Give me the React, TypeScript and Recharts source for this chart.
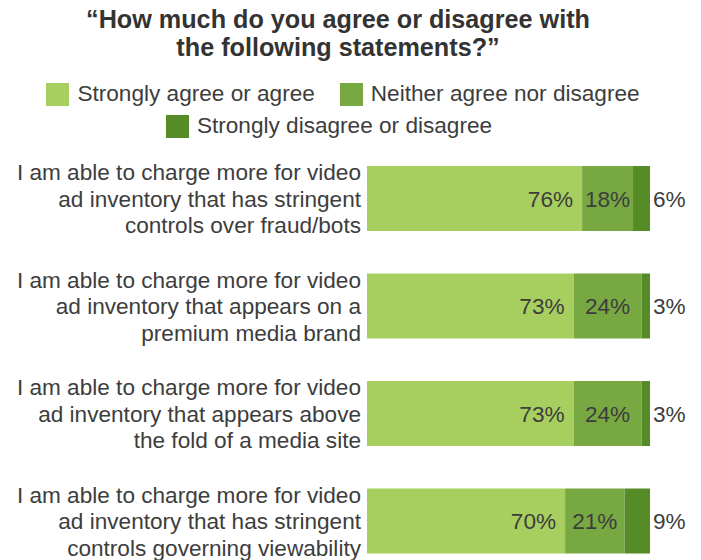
import { BarChart, Bar, XAxis, YAxis, LabelList } from "recharts";

const statements = [
  "I am able to charge more for video|ad inventory that has stringent|controls over fraud/bots",
  "I am able to charge more for video|ad inventory that appears on a|premium media brand",
  "I am able to charge more for video|ad inventory that appears above|the fold of a media site",
  "I am able to charge more for video|ad inventory that has stringent|controls governing viewability",
];
const agree = [76, 73, 73, 70];
const neither = [18, 24, 24, 21];
const disagree = [6, 3, 3, 9];

const seriesNames = [
  "Strongly agree or agree",
  "Neither agree nor disagree",
  "Strongly disagree or disagree",
];
const colors = ["#A6CF5F", "#78A842", "#568C27"];

const data = statements.map((s, i) => ({
  name: s,
  agree: agree[i],
  neither: neither[i],
  disagree: disagree[i],
}));

const FONT = "'Liberation Sans', Arial, Helvetica, sans-serif";
const TEXT = "#3d3d3d";
const FS = 22.6;

const CategoryTick = ({ x, y, payload }: any) => {
  const lines = String(payload.value).split("|");
  return (
    <text x={x} y={y} textAnchor="end" fill={TEXT} fontSize={FS} fontFamily={FONT}>
      {lines.map((line, i) => (
        <tspan key={i} x={x} y={y + (i - (lines.length - 1) / 2) * 26.5} dy="0.35em">
          {line}
        </tspan>
      ))}
    </text>
  );
};

// legend rows: first two items, then the third
const legendRows = [
  [0, 1],
  [2],
];

const pct = (v: any) => `${v}%`;

export default function App() {
  return (
    <div
      style={{
        position: "absolute",
        left: 0,
        top: 0,
        width: 701,
        height: 560,
        overflow: "hidden",
        background: "#fff",
      }}
    >
      <div
        style={{
          position: "absolute",
          left: 0,
          top: 5,
          width: 676,
          textAlign: "center",
          fontFamily: FONT,
          fontWeight: "bold",
          fontSize: 25.2,
          lineHeight: "28px",
          color: "#333333",
        }}
      >
        “How much do you agree or disagree with
        <br />
        the following statements?”
      </div>
      <div
        style={{
          position: "absolute",
          left: 0,
          top: 78,
          width: 686,
          fontFamily: FONT,
          fontSize: FS,
          color: TEXT,
        }}
      >
        {legendRows.map((row, r) => (
          <div
            key={r}
            style={{
              display: "flex",
              justifyContent: "center",
              gap: 25,
              height: 32,
              alignItems: "center",
              paddingRight: r === 1 ? 28 : 0,
            }}
          >
            {row.map((k) => (
              <div key={k} style={{ display: "flex", alignItems: "center", gap: 8 }}>
                <div style={{ width: 23, height: 23, background: colors[k] }} />
                <span>{seriesNames[k]}</span>
              </div>
            ))}
          </div>
        ))}
      </div>
      <BarChart
        width={701}
        height={575}
        data={data}
        layout="vertical"
        margin={{ top: 145, right: 51, bottom: 0, left: 0 }}
        barSize={65}
      >
        <XAxis type="number" domain={[0, 100]} hide />
        <YAxis
          type="category"
          dataKey="name"
          width={367}
          axisLine={false}
          tickLine={false}
          tickSize={0}
          tickMargin={6}
          tick={<CategoryTick />}
          interval={0}
        />
        <Bar dataKey="agree" name={seriesNames[0]} stackId="a" fill={colors[0]} isAnimationActive={false}>
          <LabelList dataKey="agree" position="insideRight" offset={9} formatter={pct} fill={TEXT} fontSize={FS} fontFamily={FONT} />
        </Bar>
        <Bar dataKey="neither" name={seriesNames[1]} stackId="a" fill={colors[1]} isAnimationActive={false}>
          <LabelList dataKey="neither" position="center" formatter={pct} fill={TEXT} fontSize={FS} fontFamily={FONT} />
        </Bar>
        <Bar dataKey="disagree" name={seriesNames[2]} stackId="a" fill={colors[2]} isAnimationActive={false}>
          <LabelList dataKey="disagree" position="right" offset={3} formatter={pct} fill={TEXT} fontSize={FS} fontFamily={FONT} />
        </Bar>
      </BarChart>
    </div>
  );
}
